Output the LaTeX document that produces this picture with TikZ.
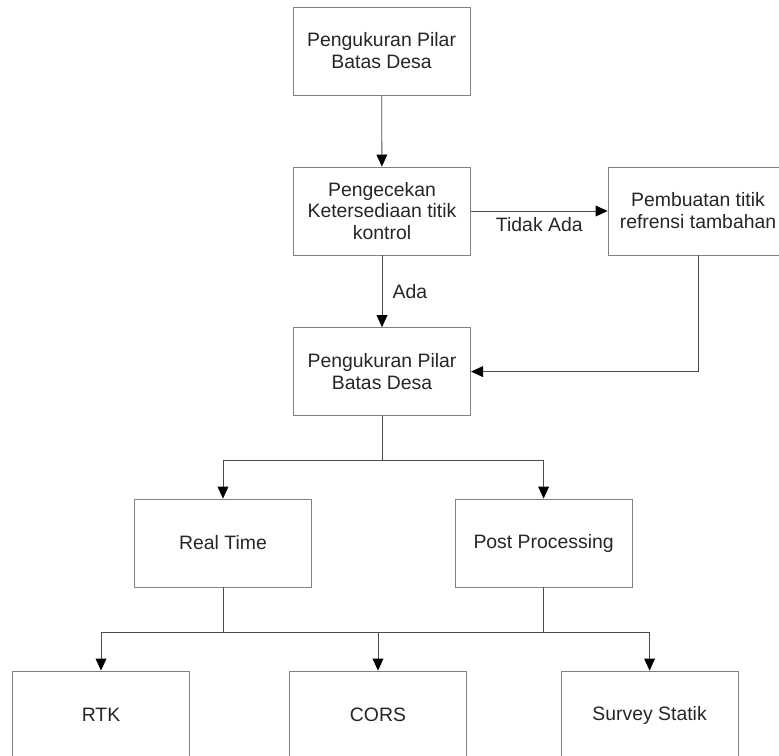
\documentclass[tikz,border=0pt]{standalone}
\usepackage{fontspec}
\setmainfont{Liberation Sans}
\usepackage{tikz}
\usepackage{xcolor}
\usetikzlibrary{positioning,arrows.meta,calc}

\begin{document}
\begin{tikzpicture}[
          every node/.style={font=\fontsize{13.8}{15.6}\selectfont, text=black!85},
          box/.style={draw=black!50, line width=0.6pt, rectangle, minimum width=4.43cm, minimum height=2.2cm, align=center},
          wbox/.style={box, minimum width=4.5cm},
          arr/.style={draw=black!70, line width=0.6pt, -{Triangle[length=0.3cm,width=0.27cm,color=black]}},
          link/.style={draw=black!70, line width=0.6pt}
      ]
        \useasboundingbox[fill=white] (0,0) rectangle (19.475,-18.9);

        \node[box] (ukur1) at (9.54,-1.275) {Pengukuran Pilar\\Batas Desa};
        \node[box] (cek) at (9.55,-5.275) {Pengecekan\\Ketersediaan titik\\kontrol};
        \node[wbox] (buat) at (17.45,-5.275) {Pembuatan titik\\refrensi tambahan};
        \node[box] (ukur2) at (9.55,-9.29) {Pengukuran Pilar\\Batas Desa};

        \node[box] (rt) at (5.575,-13.575) {Real Time};
        \node[box] (pp) at (13.59,-13.575) {Post Processing};

        \node[box] (rtk) at (2.525,-17.875) {RTK};
        \node[box] (cors) at (9.45,-17.875) {CORS};
        \node[box] (statik) at (16.24,-17.875) {Survey Statik};

        \coordinate (j1) at (9.55,-11.5);
        \coordinate (j2) at (9.45,-15.8);

        \draw[arr] (ukur1) -- (cek);
        \draw[arr] (cek) -- node[below=1pt] {Tidak Ada} (buat);
        \draw[arr] (cek) -- node[right=4pt] {Ada} (ukur2);
        \draw[arr] (buat) |- (ukur2);

        \draw[link] (ukur2) -- (j1);
        \draw[arr] (j1) -| (rt);
        \draw[arr] (j1) -| (pp);

        \draw[link] (rt) -- (rt |- j2);
        \draw[link] (pp) -- (pp |- j2);
        \draw[arr] (j2) -| (rtk);
        \draw[arr] (j2) -- (cors);
        \draw[arr] (j2) -| (statik);
      \end{tikzpicture}
\end{document}
